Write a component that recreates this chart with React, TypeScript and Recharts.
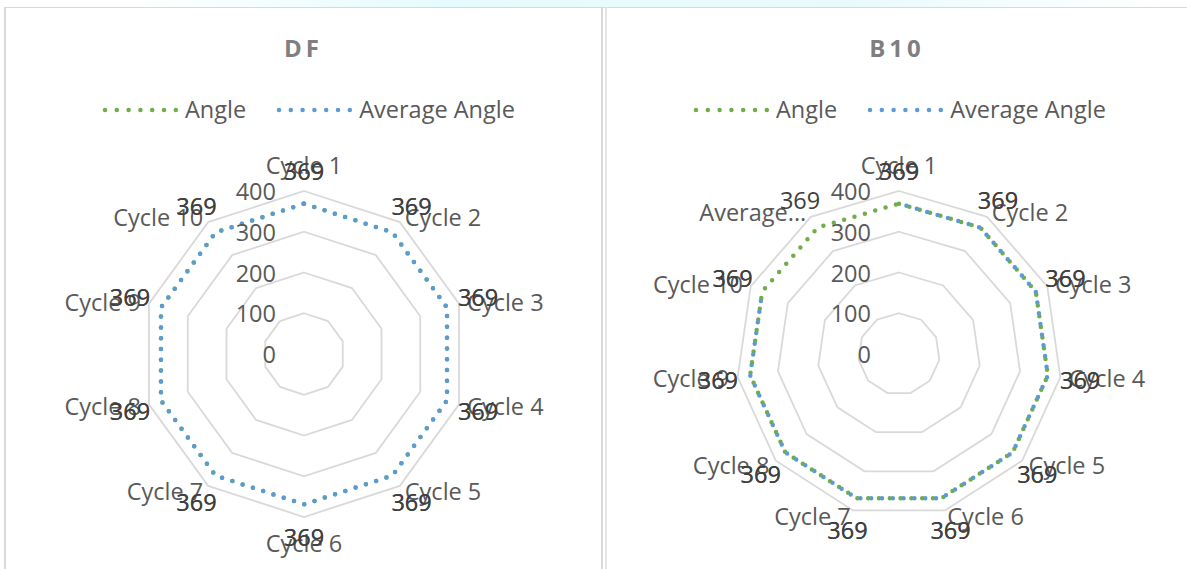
import { RadarChart, Radar, PolarGrid, PolarAngleAxis, PolarRadiusAxis } from 'recharts'

const FONT = "'Open Sans', 'Noto Sans', sans-serif"
const LABEL_GREY = '#595959'
const VALUE_GREY = '#404040'
const GRID_GREY = '#d9d9d9'
const OUTER = 163
const TEXT_SIZE = 23.5

const dfCycles = ['Cycle 1', 'Cycle 2', 'Cycle 3', 'Cycle 4', 'Cycle 5', 'Cycle 6', 'Cycle 7', 'Cycle 8', 'Cycle 9', 'Cycle 10']
const dfAngle = [369, 369, 369, 369, 369, 369, 369, 369, 369, 369]
const dfAverageAngle = [369, 369, 369, 369, 369, 369, 369, 369, 369, 369]

const b10Cycles = ['Cycle 1', 'Cycle 2', 'Cycle 3', 'Cycle 4', 'Cycle 5', 'Cycle 6', 'Cycle 7', 'Cycle 8', 'Cycle 9', 'Cycle 10', 'Average Angle']
const b10Angle = [369, 369, 369, 369, 369, 369, 369, 369, 369, 369, 369]
const b10AverageAngle = [369, 369, 369, 369, 369, 369, 369, 369, 369, 369, null]

const radiusTicks = [0, 100, 200, 300, 400]

const series = [
  { key: 'angle', name: 'Angle', color: '#70ad47' },
  { key: 'average', name: 'Average Angle', color: '#5b9bd5' },
]

// category labels sit just outside the outer ring, Excel style
function angleTick(cx: number, cy: number) {
  return function AngleTick(props: any) {
    const { x, y, payload } = props
    const dx = x - cx
    const dy = y - cy
    const d = Math.hypot(dx, dy) || 1
    const s = dx / d
    const c = -dy / d
    const px = cx + s * OUTER
    const py = cy - c * OUTER
    const vertical = Math.abs(s) < 0.1
    const anchor = vertical ? 'middle' : s > 0 ? 'start' : 'end'
    const label = String(payload.value)
    const text = label.length > 10 ? label.slice(0, 7) + '...' : label
    return (
      <text
        x={px + 8.5 * s}
        y={py - c * (vertical ? 26 : 6)}
        textAnchor={anchor}
        dominantBaseline="central"
        fill={LABEL_GREY}
        fontSize={TEXT_SIZE}
        fontFamily={FONT}
      >
        {text}
      </text>
    )
  }
}

function RadiusTick(props: any) {
  const { x, y, payload } = props
  return (
    <text
      x={x - 28}
      y={y}
      textAnchor="end"
      dominantBaseline="central"
      fill={LABEL_GREY}
      fontSize={TEXT_SIZE}
      fontFamily={FONT}
    >
      {payload.value}
    </text>
  )
}

// data label drawn in place of the dot, pushed out along the spoke
function valueLabel(cx: number, cy: number) {
  return function ValueLabel(props: any) {
    const { cx: px, cy: py, payload, dataKey, index } = props
    const v = payload?.value ?? payload?.[dataKey]
    if (v == null || !Number.isFinite(px) || !Number.isFinite(py)) return <g key={index} />
    const dx = px - cx
    const dy = py - cy
    const d = Math.hypot(dx, dy) || 1
    return (
      <text
        key={index}
        x={cx + (dx / d) * 183}
        y={cy + (dy / d) * 183}
        textAnchor="middle"
        dominantBaseline="central"
        fill={VALUE_GREY}
        fontSize={TEXT_SIZE}
        fontFamily={FONT}
      >
        {v}
      </text>
    )
  }
}

// dotted outline that leaves a gap where a value is missing
function dottedShape(color: string, offset: number, dataKey: string) {
  return function DottedPolygon(props: any) {
    const points: any[] = props.points || []
    const n = points.length
    const ok = (p: any) => {
      const v = p?.value ?? p?.payload?.[dataKey]
      return v != null && Number.isFinite(p.x) && Number.isFinite(p.y)
    }
    const segs: string[] = []
    let cur = ''
    for (let i = 0; i <= n; i++) {
      const p = points[i % n]
      if (ok(p)) {
        cur += (cur ? 'L' : 'M') + p.x + ',' + p.y
      } else {
        if (cur) segs.push(cur)
        cur = ''
      }
    }
    if (cur) segs.push(cur)
    return (
      <path
        d={segs.join('')}
        fill="none"
        stroke={color}
        strokeWidth={4.5}
        strokeLinecap="round"
        strokeLinejoin="round"
        strokeDasharray="0 10.8"
        strokeDashoffset={offset}
      />
    )
  }
}

function Legend({ x }: { x: number }) {
  return (
    <div
      style={{
        position: 'absolute',
        left: x,
        top: 88,
        height: 28,
        display: 'flex',
        alignItems: 'center',
        gap: 30,
        fontFamily: FONT,
        fontSize: TEXT_SIZE,
        color: LABEL_GREY,
        lineHeight: 1,
        whiteSpace: 'nowrap',
      }}
    >
      {series.map((s) => (
        <div key={s.key} style={{ display: 'flex', alignItems: 'center', gap: 5 }}>
          <svg width={78} height={8}>
            <line
              x1={3}
              x2={75}
              y1={4}
              y2={4}
              stroke={s.color}
              strokeWidth={4.5}
              strokeLinecap="round"
              strokeDasharray="0 11.8"
            />
          </svg>
          <span>{s.name}</span>
        </div>
      ))}
    </div>
  )
}

interface PanelProps {
  title: string
  cycles: string[]
  angle: (number | null)[]
  average: (number | null)[]
  left: number
  width: number
  cx: number
  legendX: number
  avgOffset: number
}

function RadarPanel({ title, cycles, angle, average, left, width, cx, legendX, avgOffset }: PanelProps) {
  const cy = 346
  const data = cycles.map((cycle, i) => ({ cycle, angle: angle[i], average: average[i] }))
  return (
    <div style={{ position: 'absolute', left, top: 8, width, height: 561 }}>
      <div
        style={{
          position: 'absolute',
          left: 0,
          width,
          top: 25,
          height: 30,
          lineHeight: '30px',
          textAlign: 'center',
          fontFamily: FONT,
          fontWeight: 700,
          fontSize: 24,
          letterSpacing: 4,
          color: '#7f7f7f',
        }}
      >
        {title}
      </div>
      <Legend x={legendX} />
      <div style={{ position: 'absolute', left: 0, top: 0 }}>
        <RadarChart
          width={width}
          height={561}
          data={data}
          cx={cx}
          cy={cy}
          outerRadius={OUTER}
          margin={{ top: 0, right: 0, bottom: 0, left: 0 }}
        >
          <PolarGrid gridType="polygon" radialLines={false} stroke={GRID_GREY} strokeWidth={1.8} />
          <PolarAngleAxis dataKey="cycle" tick={angleTick(cx, cy)} tickLine={false} axisLine={false} />
          <PolarRadiusAxis
            angle={90}
            type="number"
            domain={[0, 400]}
            ticks={radiusTicks as any}
            tickCount={5}
            axisLine={false}
            tick={RadiusTick}
          />
          {series.map((s) => (
            <Radar
              key={s.key}
              name={s.name}
              dataKey={s.key}
              stroke={s.color}
              fill="none"
              fillOpacity={0}
              shape={dottedShape(s.color, s.key === 'average' ? avgOffset : 0, s.key)}
              dot={valueLabel(cx, cy)}
              activeDot={false}
              isAnimationActive={false}
            />
          ))}
        </RadarChart>
      </div>
    </div>
  )
}

export default function App() {
  return (
    <div
      style={{
        position: 'fixed',
        left: 0,
        top: 0,
        width: 1187,
        height: 569,
        overflow: 'hidden',
        background: '#ffffff',
      }}
    >
      <div style={{ position: 'absolute', left: 130, top: 0, width: 1030, height: 7, background: 'linear-gradient(90deg, #ffffff, #e6fbfd 30%, #e9fafc 70%, #ffffff)' }} />
      <div style={{ position: 'absolute', left: 4, top: 7, width: 1183, height: 1, background: GRID_GREY }} />
      <div style={{ position: 'absolute', left: 4, top: 7, width: 2, height: 562, background: GRID_GREY }} />
      <div style={{ position: 'absolute', left: 601, top: 7, width: 2, height: 562, background: GRID_GREY }} />
      <div style={{ position: 'absolute', left: 605, top: 7, width: 2, height: 562, background: '#e4e4e4' }} />
      <RadarPanel
        title="DF"
        cycles={dfCycles}
        angle={dfAngle}
        average={dfAverageAngle}
        left={6}
        width={595}
        cx={298}
        legendX={96}
        avgOffset={0}
      />
      <RadarPanel
        title="B10"
        cycles={b10Cycles}
        angle={b10Angle}
        average={b10AverageAngle}
        left={607}
        width={580}
        cx={292}
        legendX={86}
        avgOffset={3}
      />
    </div>
  )
}
